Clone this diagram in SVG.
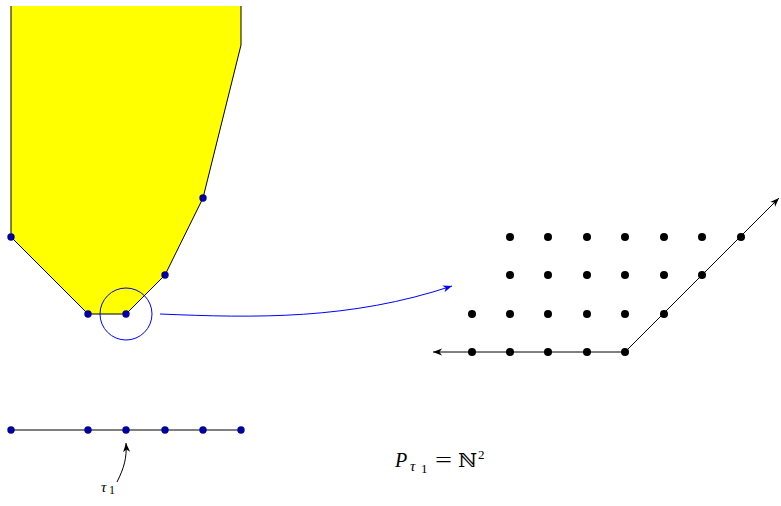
<svg xmlns="http://www.w3.org/2000/svg" width="781" height="506" viewBox="0 0 781 506">
<style>
.bd{fill:#0000a0}
.kd{fill:#000}
.ln{stroke:#000;stroke-width:1;fill:none}
.math{font-family:"Liberation Serif","DejaVu Serif",serif;fill:#000}
</style>
<defs>
<marker id="ak" markerWidth="10" markerHeight="8" refX="9" refY="4" orient="auto" markerUnits="userSpaceOnUse">
<path d="M0,0.5 L9,4 L0,7.5 L2.5,4 Z" fill="#000"/>
</marker>
<marker id="ab" markerWidth="10" markerHeight="8" refX="9" refY="4" orient="auto" markerUnits="userSpaceOnUse">
<path d="M0,0.5 L9,4 L0,7.5 L2.5,4 Z" fill="#0000ff"/>
</marker>
</defs>
<g id="polygon">
<path d="M11,6 L11,237 L88,314 L126,314 L165,275 L203,198 L241,45 L241,6" fill="#ffff00" stroke="none"/>
<path d="M11,6 L11,237 L88,314 L126,314 L165,275 L203,198 L241,45 L241,6" class="ln"/>
<circle class="bd" cx="11" cy="237" r="3.7"/>
<circle class="bd" cx="88" cy="314" r="3.7"/>
<circle class="bd" cx="126" cy="314" r="3.7"/>
<circle class="bd" cx="165" cy="275" r="3.7"/>
<circle class="bd" cx="203" cy="198" r="3.7"/>
</g>
<g id="focus-circle">
<circle cx="126" cy="314" r="26" fill="none" stroke="#0000ff" stroke-width="1"/>
</g>
<g id="line1d">
<line x1="11" y1="430" x2="241" y2="430" class="ln"/>
<circle class="bd" cx="11" cy="430" r="3.7"/>
<circle class="bd" cx="88" cy="430" r="3.7"/>
<circle class="bd" cx="126" cy="430" r="3.7"/>
<circle class="bd" cx="165" cy="430" r="3.7"/>
<circle class="bd" cx="203" cy="430" r="3.7"/>
<circle class="bd" cx="241" cy="430" r="3.7"/>
</g>
<g id="tau-label">
<text class="math" x="101" y="492" font-size="15" font-style="italic">τ</text>
<text class="math" x="109" y="494" font-size="12">1</text>
</g>
<g id="lattice">
<g class="kd">
<circle cx="510" cy="237" r="4"/><circle cx="548" cy="237" r="4"/><circle cx="587" cy="237" r="4"/><circle cx="625" cy="237" r="4"/><circle cx="664" cy="237" r="4"/><circle cx="702" cy="237" r="4"/><circle cx="741" cy="237" r="4"/>
<circle cx="510" cy="275" r="4"/><circle cx="548" cy="275" r="4"/><circle cx="587" cy="275" r="4"/><circle cx="625" cy="275" r="4"/><circle cx="664" cy="275" r="4"/><circle cx="702" cy="275" r="4"/>
<circle cx="472" cy="314" r="4"/><circle cx="510" cy="314" r="4"/><circle cx="548" cy="314" r="4"/><circle cx="587" cy="314" r="4"/><circle cx="625" cy="314" r="4"/><circle cx="664" cy="314" r="4"/>
<circle cx="472" cy="352" r="4"/><circle cx="510" cy="352" r="4"/><circle cx="548" cy="352" r="4"/><circle cx="587" cy="352" r="4"/><circle cx="625" cy="352" r="4"/>
</g>
</g>
<g id="formula">
<text class="math" x="395" y="467" font-size="20" font-style="italic">P</text>
<text class="math" x="410" y="471" font-size="15" font-style="italic">τ</text>
<text class="math" x="421" y="473" font-size="13">1</text>
<text class="math" x="435" y="467" font-size="20" textLength="17" lengthAdjust="spacingAndGlyphs">=</text>
<text class="math" x="458" y="467" font-size="19" textLength="19" lengthAdjust="spacingAndGlyphs">ℕ</text>
<text class="math" x="478" y="459" font-size="13">2</text>
</g>
<g id="connectors">
<path d="M160,314 C255,318 350,320 452,286" fill="none" stroke="#0000ff" stroke-width="1" marker-end="url(#ab)"/>
<path d="M117,482 C124,468 127,458 126,443" class="ln" marker-end="url(#ak)"/>
<line x1="625" y1="352" x2="433" y2="352" class="ln" marker-end="url(#ak)"/>
<line x1="625" y1="352" x2="779" y2="198" class="ln" marker-end="url(#ak)"/>
</g>
</svg>
